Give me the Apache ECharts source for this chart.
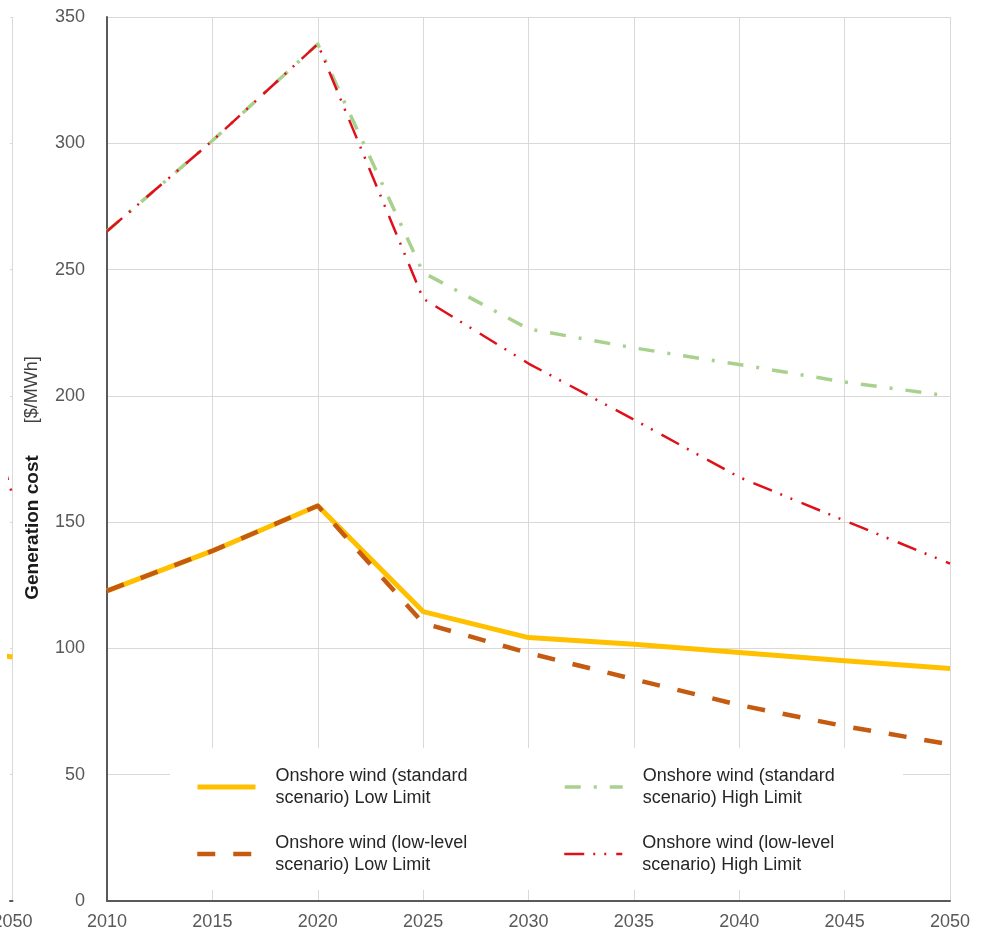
<!DOCTYPE html>
<html>
<head>
<meta charset="utf-8">
<script src="https://cdn.jsdelivr.net/npm/echarts@6/dist/echarts.min.js"></script>
<style>
  html, body { margin: 0; padding: 0; background: #ffffff; }
  #chart { width: 985px; height: 934px; }
</style>
</head>
<body>
<div id="chart"></div>
<script>
// Years on the horizontal axis
const years = ['2010', '2015', '2020', '2025', '2030', '2035', '2040', '2045', '2050'];
const yTicks = { min: 0, max: 350, interval: 50 };

// Generation cost of onshore wind [$/MWh]
const stdLow  = [122.8, 138.6, 156.5, 114.6, 104.3, 101.7, 98.4, 95.1, 92.1];
const lowLow  = [122.8, 138.6, 156.5, 110.0, 98.2, 87.8, 77.6, 69.2, 62.0];
const stdHigh = [265.2, 301.0, 339.3, 248.8, 226.5, 219.0, 212.4, 205.5, 199.9];
const lowHigh = [265.2, 301.0, 339.3, 238.5, 212.8, 190.6, 167.8, 150.6, 133.6];

// Neighbouring panel: only its last stretch (2045-2050) is in view
const sideYears   = [2045, 2050];
const sideStdLow  = [98.0, 96.6];
const sideLowLow  = [80.0, 74.0];
const sideStdHigh = [215.0, 210.0];
const sideLowHigh = [194.0, 160.7];
const sideView = { min: 2049.5, max: 2050 };

const names = [
  'Onshore wind (standard\nscenario) Low Limit',
  'Onshore wind (low-level\nscenario) Low Limit',
  'Onshore wind (standard\nscenario) High Limit',
  'Onshore wind (low-level\nscenario) High Limit'
];

const colors = { stdLow: '#FFC000', lowLow: '#C55A11', stdHigh: '#A9D18E', lowHigh: '#E0101A' };
const FONT = '"Liberation Sans", Arial, sans-serif';

const styles = [
  { color: colors.stdLow, width: 5, type: 'solid' },
  { color: colors.lowLow, width: 4.5, type: [18, 18] },
  { color: colors.stdHigh, width: 3.5, type: [16, 13, 3, 13] },
  { color: colors.lowHigh, width: 2.5, type: [20, 9, 2, 9, 2, 10] }
];

function lineSeries(name, data, st, axisIndex) {
  return {
    name: name,
    type: 'line',
    xAxisIndex: axisIndex,
    yAxisIndex: axisIndex,
    data: data,
    symbol: 'none',
    clip: true,
    animation: false,
    color: st.color,
    lineStyle: { color: st.color, width: st.width, type: st.type, cap: 'butt', join: 'round' }
  };
}

function pairs(xs, ys) {
  return xs.map((x, i) => [x, ys[i]]);
}

const axisLabelStyle = { color: '#595959', fontSize: 18, fontFamily: FONT };
const gridLine = { show: true, lineStyle: { color: '#d9d9d9', width: 1 } };

function legendFor(i, left, top) {
  return {
    data: [names[i]],
    left: left,
    top: top,
    padding: 0,
    orient: 'vertical',
    itemWidth: 58,
    itemHeight: 14,
    selectedMode: false,
    itemStyle: { opacity: 0 },
    lineStyle: { width: styles[i].width, type: styles[i].type, color: styles[i].color, cap: 'butt' },
    textStyle: { color: '#262626', fontSize: 18, fontFamily: FONT, lineHeight: 22, padding: [0, 0, 0, 15] }
  };
}

const chart = echarts.init(document.getElementById('chart'), null, { renderer: 'canvas' });

chart.setOption({
  backgroundColor: '#ffffff',
  animation: false,
  grid: [
    { left: 107, right: 35, top: 17, bottom: 33, containLabel: false },
    { left: 0, width: 10, top: 17, bottom: 33, containLabel: false }
  ],
  xAxis: [
    {
      gridIndex: 0, type: 'category', data: years, boundaryGap: false,
      axisLine: { lineStyle: { color: '#595959', width: 2 } },
      axisTick: { show: false },
      axisLabel: Object.assign({ margin: 12 }, axisLabelStyle),
      splitLine: gridLine
    },
    {
      gridIndex: 1, type: 'value', min: sideView.min, max: sideView.max,
      axisLine: { lineStyle: { color: '#595959', width: 2 } },
      axisTick: { show: false, customValues: [sideView.max] },
      axisLabel: Object.assign({
        margin: 12,
        customValues: [sideView.max],
        formatter: (v) => String(Math.round(v))
      }, axisLabelStyle),
      splitLine: gridLine
    }
  ],
  yAxis: [
    {
      gridIndex: 0, type: 'value', min: yTicks.min, max: yTicks.max, interval: yTicks.interval,
      axisLine: { show: true, lineStyle: { color: '#595959', width: 2 } },
      axisTick: { show: false },
      axisLabel: Object.assign({ margin: 22 }, axisLabelStyle),
      splitLine: gridLine,
      name: '{b|Generation cost}{g|}{n|[$/MWh]}{e|}',
      nameLocation: 'middle',
      nameRotate: 90,
      nameGap: 65,
      nameTextStyle: {
        rich: {
          b: { fontSize: 19, fontWeight: 'bold', color: '#1a1a1a', fontFamily: FONT },
          g: { width: 32 },
          n: { fontSize: 18, color: '#404040', fontFamily: FONT },
          e: { width: 38 }
        }
      }
    },
    {
      gridIndex: 1, type: 'value', min: yTicks.min, max: yTicks.max, interval: yTicks.interval,
      axisLine: { show: false },
      axisTick: { show: false },
      axisLabel: { show: false },
      splitLine: gridLine
    }
  ],
  graphic: [
    {
      type: 'rect', z: 1,
      shape: { x: 170, y: 748, width: 733, height: 142 },
      style: { fill: '#ffffff' }
    }
  ],
  legend: [
    legendFor(0, 195, 765),
    legendFor(1, 195, 832),
    legendFor(2, 563, 765),
    legendFor(3, 563, 832)
  ],
  series: [
    lineSeries(names[0], stdLow, styles[0], 0),
    lineSeries(names[1], lowLow, styles[1], 0),
    lineSeries(names[2], stdHigh, styles[2], 0),
    lineSeries(names[3], lowHigh, styles[3], 0),
    lineSeries('side-1', pairs(sideYears, sideStdLow), styles[0], 1),
    lineSeries('side-2', pairs(sideYears, sideLowLow), styles[1], 1),
    lineSeries('side-3', pairs(sideYears, sideStdHigh), styles[2], 1),
    lineSeries('side-4', pairs(sideYears, sideLowHigh), styles[3], 1)
  ]
});
</script>
</body>
</html>
